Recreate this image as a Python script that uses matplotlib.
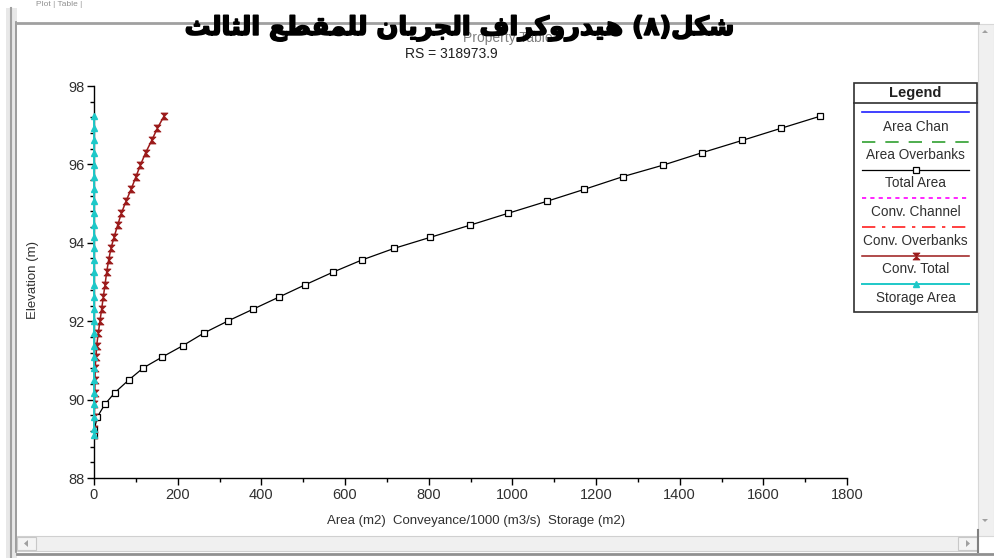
import matplotlib
matplotlib.use("Agg")
import matplotlib.pyplot as plt
import matplotlib.patheffects as pe
from matplotlib.path import Path
from matplotlib.patches import Rectangle, Polygon
from matplotlib.ticker import MultipleLocator

# ---------------- data ----------------
elevation = [89.10, 89.25, 89.56, 89.88, 90.18, 90.50, 90.81, 91.08, 91.38, 91.70,
             92.01, 92.31, 92.62, 92.93, 93.25, 93.56, 93.86, 94.14, 94.45, 94.75,
             95.06, 95.36, 95.69, 95.98, 96.30, 96.61, 96.92, 97.23]
total_area = [0, 1, 8, 26, 50, 83, 118, 162, 213, 263,
              321, 381, 443, 505, 571, 640, 718, 804, 899, 989,
              1083, 1171, 1265, 1360, 1454, 1549, 1642, 1736]
conv_total = [0, 0.2, 0.6, 1.0, 1.5, 2.2, 2.6, 4.8, 6.4, 10.3,
              14.3, 18.3, 22.3, 26.3, 30.3, 35.0, 40.6, 47.8, 56.6, 65.3,
              76.5, 88.5, 100.4, 110.8, 123.5, 137.9, 151.4, 167.3]
storage_area = [0] * len(elevation)

x_ticks = [0, 200, 400, 600, 800, 1000, 1200, 1400, 1600, 1800]
y_ticks = [88, 90, 92, 94, 96, 98]

legend_labels = ["Area Chan", "Area Overbanks", "Total Area", "Conv. Channel",
                 "Conv. Overbanks", "Conv. Total", "Storage Area"]

title_ar = "شكل(٨) هيدروكراف الجريان للمقطع الثالث"
subtitle = "Property Table"
rs_text = "RS = 318973.9"
x_label = "Area (m2)  Conveyance/1000 (m3/s)  Storage (m2)"
y_label = "Elevation (m)"

# ---------------- minimal Arabic shaping ----------------
FORMS = {
    'ا': ('\uFE8D', '\uFE8E', None, None),
    'ث': ('\uFE99', '\uFE9A', '\uFE9B', '\uFE9C'),
    'ج': ('\uFE9D', '\uFE9E', '\uFE9F', '\uFEA0'),
    'د': ('\uFEA9', '\uFEAA', None, None),
    'ر': ('\uFEAD', '\uFEAE', None, None),
    'ش': ('\uFEB5', '\uFEB6', '\uFEB7', '\uFEB8'),
    'ط': ('\uFEC1', '\uFEC2', '\uFEC3', '\uFEC4'),
    'ع': ('\uFEC9', '\uFECA', '\uFECB', '\uFECC'),
    'ف': ('\uFED1', '\uFED2', '\uFED3', '\uFED4'),
    'ق': ('\uFED5', '\uFED6', '\uFED7', '\uFED8'),
    'ك': ('\uFED9', '\uFEDA', '\uFEDB', '\uFEDC'),
    'ل': ('\uFEDD', '\uFEDE', '\uFEDF', '\uFEE0'),
    'م': ('\uFEE1', '\uFEE2', '\uFEE3', '\uFEE4'),
    'ن': ('\uFEE5', '\uFEE6', '\uFEE7', '\uFEE8'),
    'ه': ('\uFEE9', '\uFEEA', '\uFEEB', '\uFEEC'),
    'و': ('\uFEED', '\uFEEE', None, None),
    'ي': ('\uFEF1', '\uFEF2', '\uFEF3', '\uFEF4'),
}


def shape_rtl(text):
    out = []
    n = len(text)
    for i, ch in enumerate(text):
        if ch not in FORMS:
            out.append(ch)
            continue
        prev = text[i - 1] if i > 0 else ''
        nxt = text[i + 1] if i < n - 1 else ''
        joins_prev = prev in FORMS and FORMS[prev][2] is not None
        joins_next = nxt in FORMS and FORMS[ch][2] is not None
        iso, fin, ini, med = FORMS[ch]
        if joins_prev and joins_next:
            out.append(med)
        elif joins_prev:
            out.append(fin)
        elif joins_next:
            out.append(ini)
        else:
            out.append(iso)
    vis = ''.join(reversed(out))
    vis = vis.translate(str.maketrans({'(': ')', ')': '('}))
    return vis


# ---------------- figure ----------------
W, H = 994, 558
fig = plt.figure(figsize=(W / 100, H / 100), dpi=100)
fig.patch.set_facecolor('white')
FONT = ['Liberation Sans', 'DejaVu Sans']
TXT = '#303030'

# background / frame layer
bg = fig.add_axes([0, 0, 1, 1], zorder=0)
bg.set_xlim(0, W)
bg.set_ylim(H, 0)
bg.axis('off')

# main plot
ax = fig.add_axes([94 / W, (H - 478) / H, 753 / W, 392 / H], zorder=2)
ax.set_facecolor('none')

hourglass = Path([(-1, 1), (1, 1), (-1, -1), (1, -1), (-1, 1)],
                 [Path.MOVETO, Path.LINETO, Path.LINETO, Path.LINETO, Path.CLOSEPOLY])

ax.plot(total_area, elevation, color='black', lw=0.9, marker='s', ms=5,
        mfc='white', mec='black', mew=0.9, zorder=3)
ax.plot(conv_total, elevation, color='#9b1a1a', lw=1.1, marker=hourglass, ms=5,
        mfc='#9b1a1a', mec='#9b1a1a', mew=0.6, zorder=4)
ax.plot(storage_area, elevation, color='#1ec8c8', lw=1.4, marker='^', ms=4,
        mfc='#1ec8c8', mec='#1ec8c8', zorder=5, clip_on=False)

ax.set_xlim(0, 1800)
ax.set_ylim(88, 98)
ax.set_xticks(x_ticks)
ax.set_yticks(y_ticks)
ax.xaxis.set_minor_locator(MultipleLocator(100))
ax.yaxis.set_minor_locator(MultipleLocator(0.4))
for s in ('top', 'right'):
    ax.spines[s].set_visible(False)
for s in ('left', 'bottom'):
    ax.spines[s].set_linewidth(1.0)
    ax.spines[s].set_color('black')
ax.tick_params(which='major', direction='out', length=5, width=1, colors='black',
               labelcolor=TXT, labelsize=10.5, pad=2)
ax.tick_params(which='minor', direction='out', length=3, width=1, colors='black')
for lab in ax.get_xticklabels() + ax.get_yticklabels():
    lab.set_family(FONT)

# axis labels (placed in pixel coords of the figure)
bg.text(476, 521, x_label, ha='center', va='center', fontsize=9.5, family=FONT, color=TXT)
bg.text(33, 280, y_label, ha='center', va='center', rotation=90, fontsize=9.5,
        family=FONT, color=TXT)

# subtitle and RS
bg.text(508, 38, subtitle, ha='center', va='center', fontsize=10, family=FONT,
        color='#808080', zorder=1)
bg.text(451, 54, rs_text, ha='center', va='center', fontsize=10, family=FONT,
        color='#202020')

# Arabic title
bg.text(460, 28, shape_rtl(title_ar), ha='center', va='center', fontsize=18.5,
        fontweight='bold', family=['DejaVu Sans'], color='black', zorder=5,
        path_effects=[pe.withStroke(linewidth=1.2, foreground='black')])

# ---------------- window frame ----------------
bg.add_patch(Rectangle((6, 8), 11, H - 8, facecolor='#e8e8e8', edgecolor='none', zorder=0))
bg.plot([11, 11], [8, H], color='#a0a0a0', lw=1.5, zorder=1)
bg.plot([16, 16], [22, 552], color='#909090', lw=1.2, zorder=1)
bg.plot([16, 978], [22.5, 22.5], color='#a0a0a0', lw=2, zorder=1)
bg.text(36, 5, "Plot | Table |", ha='left', va='center', fontsize=6, family=FONT,
        color='#909090')
# right scrollbar
bg.add_patch(Rectangle((978, 24), 16, 512, facecolor='#f0f0f0', edgecolor='#d8d8d8', lw=0.8, zorder=0))
bg.add_patch(Polygon([(982, 33), (988, 33), (985, 30)], closed=True, facecolor='#a0a0a0', edgecolor='none'))
bg.add_patch(Polygon([(982, 519), (988, 519), (985, 522)], closed=True, facecolor='#a0a0a0', edgecolor='none'))
# bottom scrollbar
bg.add_patch(Rectangle((17, 536), 960, 15, facecolor='#f0f0f0', edgecolor='#d0d0d0', lw=0.8, zorder=0))
bg.add_patch(Rectangle((17, 537), 19, 13, facecolor='#f4f4f4', edgecolor='#c8c8c8', lw=0.8, zorder=1))
bg.add_patch(Rectangle((958, 537), 19, 13, facecolor='#f4f4f4', edgecolor='#c8c8c8', lw=0.8, zorder=1))
bg.add_patch(Polygon([(28, 540), (28, 547), (24, 543.5)], closed=True, facecolor='#a0a0a0', edgecolor='none', zorder=2))
bg.add_patch(Polygon([(966, 540), (966, 547), (970, 543.5)], closed=True, facecolor='#a0a0a0', edgecolor='none', zorder=2))
bg.plot([978, 978], [530, 552], color='#808080', lw=1.5)
bg.plot([17, 994], [553.5, 553.5], color='#909090', lw=2)

# ---------------- legend box ----------------
lg = fig.add_axes([0, 0, 1, 1], zorder=3)
lg.set_xlim(0, W)
lg.set_ylim(H, 0)
lg.axis('off')
lg.patch.set_visible(False)
lg.add_patch(Rectangle((854, 83), 123, 229, facecolor='white', edgecolor='#303030', lw=1.2))
lg.plot([854, 977], [103, 103], color='#303030', lw=1.2)
lg.text(915.5, 93, "Legend", ha='center', va='center', fontsize=10.5, fontweight='bold',
        family=FONT, color='#202020')

lx0, lx1, lxm = 862, 969, 915.5
line_y = [112, 142, 170, 198, 227, 256, 284]
text_y = [127, 155, 183, 212, 241, 269, 298]
styles = [
    dict(color='#2020ff', lw=1.2, ls='-'),
    dict(color='#30a030', lw=1.2, ls=(0, (8, 6))),
    dict(color='black', lw=0.9, ls='-'),
    dict(color='#ff00ff', lw=1.2, ls=(0, (2.5, 2.5))),
    dict(color='#ff2020', lw=1.2, ls=(0, (8, 4, 2, 4))),
    dict(color='#9b1a1a', lw=1.1, ls='-'),
    dict(color='#1ec8c8', lw=1.4, ls='-'),
]
for ly, ty, lab, st in zip(line_y, text_y, legend_labels, styles):
    lg.plot([lx0, lx1], [ly, ly], **st)
    lg.text(lxm, ty, lab, ha='center', va='center', fontsize=9.8, family=FONT, color=TXT)
lg.plot([lxm], [line_y[2]], marker='s', ms=5, mfc='white', mec='black', mew=0.9)
lg.plot([lxm], [line_y[5]], marker=hourglass, ms=5, color='#9b1a1a', mew=0.6)
lg.plot([lxm], [line_y[6]], marker='^', ms=4, color='#1ec8c8')

fig.savefig('out.png', dpi=100)
